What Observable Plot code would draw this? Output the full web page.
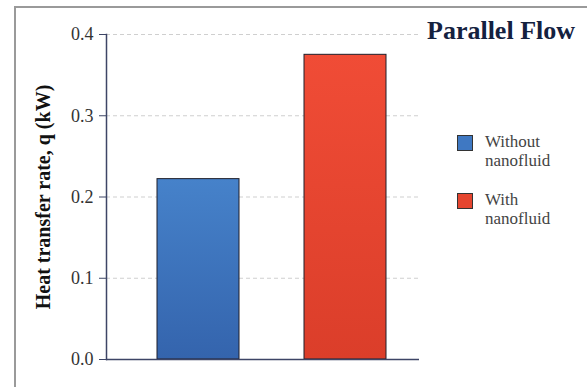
<!DOCTYPE html>
<html>
<head>
<meta charset="utf-8">
<script src="https://cdn.jsdelivr.net/npm/d3@7"></script>
<script src="https://cdn.jsdelivr.net/npm/@observablehq/plot@0.6"></script>
<style>
  html, body { margin: 0; padding: 0; background: #fff; }
  #wrap { position: relative; width: 587px; height: 387px; overflow: hidden; background: #fff; font-family: "Liberation Serif", "Times New Roman", serif; }
  #border { position: absolute; left: 14px; top: 6px; width: 600px; height: 400px; border-left: 2px solid #9a9a9a; border-top: 2px solid #9a9a9a; box-sizing: border-box; }
  #chart { position: absolute; left: 0; top: 0; }
  #chart svg text { font-size: 18px !important; font-family: "Liberation Serif", serif !important; }
  #title { position: absolute; left: 427px; top: 18px; font-size: 26px; font-weight: bold; color: #14213f; white-space: nowrap; line-height: 1; }
  .leg { position: absolute; left: 457px; display: flex; align-items: flex-start; }
  .sw { width: 14px; height: 14px; border: 1px solid #333; margin-top: 1px; }
  .lt { margin-left: 12px; font-size: 17px; line-height: 19px; color: #444; }
</style>
</head>
<body>
<div id="wrap">
  <div id="chart"></div>
  <div id="border"></div>
  <div id="title"></div>
  <div id="legend"></div>
</div>
<script>
const categories = ["Without nanofluid", "With nanofluid"];
const legendLines = [["Without", "nanofluid"], ["With", "nanofluid"]];
const heatRate = [0.222, 0.375];
const yTicks = [0, 0.1, 0.2, 0.3, 0.4];
const titleText = "Parallel Flow";
const yLabel = "Heat transfer rate, q (kW)";
const swatchColors = ["#3f78c2", "#e5452f"];

const data = categories.map((c, i) => ({cat: c, q: heatRate[i]}));

function gradientDefs() {
  const ns = "http://www.w3.org/2000/svg";
  const g = document.createElementNS(ns, "defs");
  g.innerHTML = `
    <linearGradient id="gBlue" x1="0" y1="0" x2="0" y2="1">
      <stop offset="0" stop-color="#4682ca"/>
      <stop offset="1" stop-color="#3464ad"/>
    </linearGradient>
    <linearGradient id="gRed" x1="0" y1="0" x2="0" y2="1">
      <stop offset="0" stop-color="#f04c36"/>
      <stop offset="1" stop-color="#db3e2a"/>
    </linearGradient>`;
  return g;
}

const chart = Plot.plot({
  width: 587,
  height: 387,
  marginLeft: 106,
  marginRight: 168,
  marginTop: 34,
  marginBottom: 28,
  style: {fontFamily: "Liberation Serif, serif", background: "transparent"},
  x: {domain: categories, range: [156, 387], paddingInner: 0.439, paddingOuter: 0, axis: null},
  y: {domain: [0, 0.4], ticks: yTicks},
  color: {domain: categories, range: ["url(#gBlue)", "url(#gRed)"]},
  marks: [
    gradientDefs,
    Plot.ruleY(yTicks.filter(t => t > 0), {stroke: "#cfcfcf", strokeDasharray: "4,3", strokeWidth: 1}),
    Plot.barY(data, {x: "cat", y: "q", fill: "cat", stroke: "#1f1f2a", strokeWidth: 1}),
    Plot.ruleY([0], {stroke: "#3d4566", strokeWidth: 1.5}),
    Plot.axisY({
      ticks: yTicks,
      tickFormat: d3.format(".1f"),
      tickSize: 7,
      tickPadding: 6,
      color: "#333",
      stroke: "#3d4566",
      label: yLabel,
      labelAnchor: "center",
      labelArrow: "none",
      labelOffset: 71
    }),
    Plot.frame({anchor: "left", stroke: "#3d4566", strokeWidth: 1.5})
  ]
});
document.getElementById("chart").appendChild(chart);

chart.querySelectorAll("text").forEach(t => {
  if (t.textContent.trim() === yLabel) {
    t.style.setProperty("font-size", "20px", "important");
    t.style.setProperty("font-weight", "bold", "important");
    t.setAttribute("fill", "#111");
  }
});

document.getElementById("title").textContent = titleText;
const legend = document.getElementById("legend");
const legTops = [134, 192];
legendLines.forEach((lines, i) => {
  const item = document.createElement("div");
  item.className = "leg";
  item.style.top = legTops[i] + "px";
  const sw = document.createElement("div");
  sw.className = "sw";
  sw.style.background = swatchColors[i];
  const lt = document.createElement("div");
  lt.className = "lt";
  lt.style.marginTop = "-2px";
  lt.innerHTML = lines.join("<br>");
  item.appendChild(sw);
  item.appendChild(lt);
  legend.appendChild(item);
});
</script>
</body>
</html>
